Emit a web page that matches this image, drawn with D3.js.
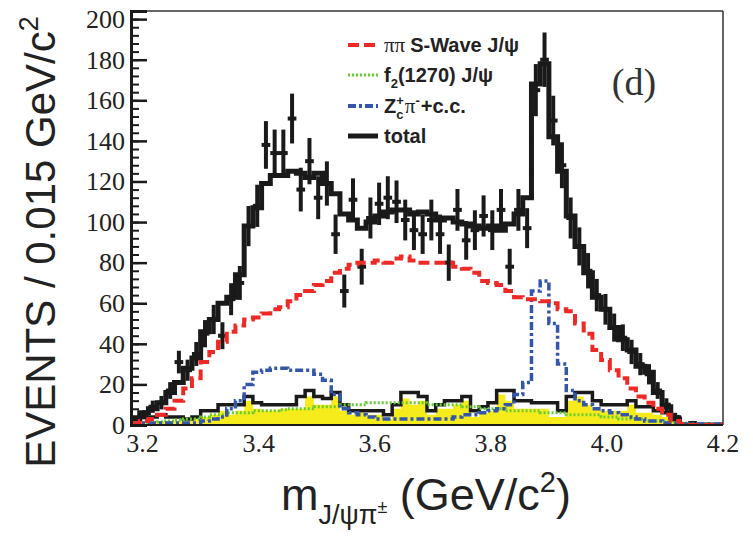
<!DOCTYPE html>
<html>
<head>
<meta charset="utf-8">
<script src="https://cdn.jsdelivr.net/npm/d3@7"></script>
<style>
body { margin: 0; background: #fff; }
svg { display: block; }
</style>
</head>
<body>
<svg width="753" height="537"></svg>
<script>
// binning: 68 bins of 0.015 GeV starting at 3.18
const binLo = 3.18;
const binW = 0.015;

const dataCounts = [2, 5, 9, 11, 17, 31, 27, 35, 45, 52,
    44, 62, 70, 98, 108, 138, 134, 134, 151, 116,
    130, 112, 119, 94, 66, 111, 78, 102, 109, 112,
    110, 101, 96, 94, 101, 94, 80, 106, 91, 96,
    103, 96, 106, 78, 106, 97, 165, 180, 150, 128,
    102, 88, 76, 64, 57, 48, 43, 36, 30, 25,
    17, 10, 4, 0, 1, 0, 0, 0];

const totalFit = [3, 6, 8, 11, 16, 21, 28, 33, 46, 52,
    60, 63, 74, 98, 107, 119, 123, 123, 125, 124,
    122, 124, 119, 114, 104, 101, 97, 100, 103, 105,
    106, 106, 104, 105, 104, 101, 102, 100, 99, 98,
    97, 98, 96, 99, 104, 112, 168, 178, 142, 125,
    103, 88, 75, 63, 57, 48, 42, 37, 29, 26,
    16, 9, 3, 0, 0, 0, 0, 0];

const sWave = [1, 2, 3, 5, 8, 12, 18, 23, 31, 36,
    41, 46, 49, 52, 53, 55, 57, 58, 61, 64,
    66, 69, 71, 75, 77, 79, 80, 80, 81, 80,
    82, 83, 81, 80, 80, 80, 80, 78, 77, 75,
    71, 70, 69, 66, 63, 62, 62, 61, 60, 57,
    56, 50, 45, 37, 32, 27, 23, 18, 14, 11,
    8, 5, 2, 0.5, 0, 0, 0, 0];

const f2Wave = [0.5, 1, 1, 1.5, 2, 2.5, 3, 3, 4, 5,
    5, 6, 6, 6, 7, 7, 7, 7.5, 8, 8,
    8, 9, 9, 9, 10, 10, 10, 11, 11, 11,
    11, 11, 11, 11, 10, 10, 10, 10, 9, 9,
    8, 8, 8, 7, 7, 7, 7, 6, 6, 6,
    5, 5, 5, 5, 4, 4, 3, 3, 3, 2,
    2, 2, 1, 1, 0.5, 0.5, 0.5, 0.5];

const zcWave = [1, 1, 1, 1, 1, 1, 1, 1, 2, 3,
    4, 8, 12, 20, 26, 27, 28, 28, 27, 27,
    27, 25, 22, 15, 8, 6, 5, 4, 3, 3,
    3, 3, 3, 3, 3, 3, 3, 4, 5, 5,
    6, 7, 8, 10, 15, 21, 66, 71, 50, 30,
    17, 12, 10, 8, 7, 6, 5, 4, 3, 2,
    2, 1, 1, 0.5, 0.5, 0.5, 0.5, 0.5];

const bkgLine = [4, 4, 4, 5, 4, 4, 3, 4, 7, 7,
    10, 10, 10, 14, 11, 10, 10, 10, 10, 14,
    17, 14, 13, 16, 10, 7, 7, 7, 7, 5,
    10, 16, 16, 14, 7, 10, 12, 12, 14, 7,
    9, 11, 17, 17, 12, 12, 11, 11, 11, 7,
    14, 16, 16, 12, 10, 10, 10, 12, 9, 9,
    7, 6, 4, 0, 0, 0, 0, 0];

const bkgFill = [1, 2, 2, 2, 2, 2, 2, 3, 4, 5,
    7, 5, 7, 12, 8, 7, 7, 8, 8, 8,
    14, 10, 10, 14, 7, 5, 6, 5, 5, 3,
    8, 13, 10, 12, 5, 8, 8, 10, 12, 4,
    6, 7, 15, 12, 8, 8, 8, 8, 4, 4,
    12, 14, 10, 8, 7, 7, 7, 10, 6, 6,
    5, 4, 2, 0, 0, 0, 0, 0];

const xTickLabels = ['3.2', '3.4', '3.6', '3.8', '4.0', '4.2'];
const yTickLabels = [0, 20, 40, 60, 80, 100, 120, 140, 160, 180, 200];

const legendRows = [
    {key: 's', color: '#ee2a26', dash: '11,5', width: 4},
    {key: 'f', color: '#66cc33', dash: '2,2', width: 3},
    {key: 'z', color: '#3355aa', dash: '8,3,3,3', width: 4},
    {key: 't', color: '#1a1a1a', dash: null, width: 5}
];

const svg = d3.select('svg');
const pl = 131, pr = 723, pt = 11, pb = 425;
const serif = 'Liberation Serif, Times New Roman, serif';
const sans = 'Liberation Sans, Arial, sans-serif';

const x = d3.scaleLinear().domain([3.18, 4.2]).range([pl, pr]);
const y = d3.scaleLinear().domain([0, 204]).range([pb, pt]);

svg.append('defs').append('clipPath').attr('id', 'plot')
.append('rect')
.attr('x', pl).attr('y', pt)
.attr('width', pr - pl).attr('height', pb - pt + 1);

// step points for a binned series
function steps(vals) {
    const p = vals.map((v, i) => [binLo + i * binW, v]);
    p.push([binLo + vals.length * binW, vals[vals.length - 1]]);
    return p;
}

const stepLine = d3.line()
.x(d => x(d[0]))
.y(d => y(d[1]))
.curve(d3.curveStepAfter);

const stepArea = d3.area()
.x(d => x(d[0]))
.y0(y(0))
.y1(d => y(d[1]))
.curve(d3.curveStepAfter);

const g = svg.append('g').attr('clip-path', 'url(#plot)');

g.append('path')
.attr('d', stepArea(steps(bkgFill)))
.attr('fill', '#f6ec1c');

g.append('path')
.attr('d', stepLine(steps(bkgLine)))
.attr('fill', 'none')
.attr('stroke', '#1a1a1a')
.attr('stroke-width', 3.5);

g.append('path')
.attr('d', stepLine(steps(totalFit)))
.attr('fill', 'none')
.attr('stroke', '#1a1a1a')
.attr('stroke-width', 5);

// data points with poisson errors
const pts = dataCounts.map((v, i) => ({c: binLo + (i + 0.5) * binW, v: v})).filter(d => d.v > 0);
const dp = g.append('g').attr('stroke', '#1a1a1a').attr('stroke-width', 4);
dp.selectAll('line.ey')
.data(pts)
.enter().append('line')
.attr('class', 'ey')
.attr('x1', d => x(d.c)).attr('x2', d => x(d.c))
.attr('y1', d => y(d.v - Math.sqrt(d.v)))
.attr('y2', d => y(d.v + Math.sqrt(d.v)));
dp.selectAll('line.ex')
.data(pts)
.enter().append('line')
.attr('class', 'ex')
.attr('x1', d => x(d.c - binW / 2)).attr('x2', d => x(d.c + binW / 2))
.attr('y1', d => y(d.v)).attr('y2', d => y(d.v));

g.append('path')
.attr('d', stepLine(steps(f2Wave)))
.attr('fill', 'none')
.attr('stroke', legendRows[1].color)
.attr('stroke-width', 3)
.attr('stroke-dasharray', legendRows[1].dash);

g.append('path')
.attr('d', stepLine(steps(zcWave)))
.attr('fill', 'none')
.attr('stroke', legendRows[2].color)
.attr('stroke-width', 3.5)
.attr('stroke-dasharray', legendRows[2].dash);

g.append('path')
.attr('d', stepLine(steps(sWave)))
.attr('fill', 'none')
.attr('stroke', legendRows[0].color)
.attr('stroke-width', 4)
.attr('stroke-dasharray', legendRows[0].dash);

// frame
svg.append('line')
.attr('x1', pl).attr('x2', pr).attr('y1', pt).attr('y2', pt)
.attr('stroke', '#333').attr('stroke-width', 1.5);
svg.append('line')
.attr('x1', pr).attr('x2', pr).attr('y1', pt).attr('y2', pb)
.attr('stroke', '#333').attr('stroke-width', 1.5);
svg.append('line')
.attr('x1', pl).attr('x2', pr).attr('y1', pb).attr('y2', pb)
.attr('stroke', '#1a1a1a').attr('stroke-width', 2);

// y axis, ticks inward
const yMinor = svg.append('g')
.attr('transform', `translate(${pl},0)`)
.call(d3.axisLeft(y).tickValues(d3.range(0, 201, 4)).tickSize(-8).tickFormat(''));
yMinor.select('.domain').remove();
yMinor.selectAll('line').attr('stroke', '#1a1a1a').attr('stroke-width', 2);

const yAxis = svg.append('g')
.attr('transform', `translate(${pl},0)`)
.call(d3.axisLeft(y).tickValues(yTickLabels).tickSize(-16).tickPadding(6));
yAxis.attr('font-family', serif);
yAxis.select('.domain').attr('stroke', '#1a1a1a').attr('stroke-width', 3);
yAxis.selectAll('line').attr('stroke', '#1a1a1a').attr('stroke-width', 2.5);
yAxis.selectAll('text')
.attr('font-family', serif)
.attr('font-size', 26)
.attr('fill', '#222');

// x tick labels
svg.append('g').selectAll('text')
.data(xTickLabels)
.enter().append('text')
.attr('x', d => x(+d))
.attr('y', 452)
.attr('text-anchor', 'middle')
.attr('font-family', serif)
.attr('font-size', 26)
.attr('fill', '#222')
.text(d => d);

// axis titles
const xt = svg.append('text')
.attr('x', 281).attr('y', 510)
.attr('font-family', sans).attr('font-size', 45).attr('fill', '#222');
xt.append('tspan').text('m');
xt.append('tspan').attr('font-size', 27).attr('dy', 14).text('J/ψπ');
xt.append('tspan').attr('font-size', 18).attr('dy', -11).text('±');
xt.append('tspan').attr('dy', -3).text(' (GeV/c');
xt.append('tspan').attr('font-size', 29).attr('dy', -18).text('2');
xt.append('tspan').attr('dy', 18).text(')');

const yt = svg.append('text')
.attr('transform', 'translate(55,242) rotate(-90)')
.attr('text-anchor', 'middle')
.attr('font-family', sans).attr('font-size', 42).attr('fill', '#222');
yt.append('tspan').text('EVENTS / 0.015 GeV/c');
yt.append('tspan').attr('font-size', 27).attr('dy', -17).text('2');

// legend
const legY = [45, 75, 106, 136];
const leg = svg.append('g');
legendRows.forEach((r, i) => {
    leg.append('line')
    .attr('x1', 348).attr('x2', 378)
    .attr('y1', legY[i]).attr('y2', legY[i])
    .attr('stroke', r.color)
    .attr('stroke-width', r.width)
    .attr('stroke-dasharray', r.dash);
});

function legText(xp, yp, size, txt, opts) {
    const t = leg.append('text')
    .attr('x', xp).attr('y', yp)
    .attr('font-family', opts && opts.serif ? serif : sans)
    .attr('font-weight', opts && opts.serif ? 'normal' : 'bold')
    .attr('font-size', size)
    .attr('fill', '#222')
    .text(txt);
    return xp + t.node().getComputedTextLength();
}

let lx = legText(384, legY[0] + 7, 21, 'ππ', {serif: true});
legText(lx + 5, legY[0] + 7, 20, 'S-Wave J/ψ');

lx = legText(384, legY[1] + 7, 20, 'f');
lx = legText(lx, legY[1] + 13, 13, '2');
legText(lx, legY[1] + 7, 20, '(1270) J/ψ');

lx = legText(384, legY[2] + 7, 20, 'Z');
const lx2 = legText(lx, legY[2] - 1, 13, '+');
legText(lx, legY[2] + 13, 13, 'c');
lx = legText(lx2 + 1, legY[2] + 7, 21, 'π', {serif: true});
lx = legText(lx, legY[2] - 1, 13, '-');
legText(lx + 1, legY[2] + 7, 20, '+c.c.');

legText(384, legY[3] + 7, 20, 'total');

// panel label
svg.append('text')
.attr('x', 634).attr('y', 95)
.attr('text-anchor', 'middle')
.attr('font-family', serif)
.attr('font-size', 38)
.attr('fill', '#333')
.text('(d)');
</script>
</body>
</html>
